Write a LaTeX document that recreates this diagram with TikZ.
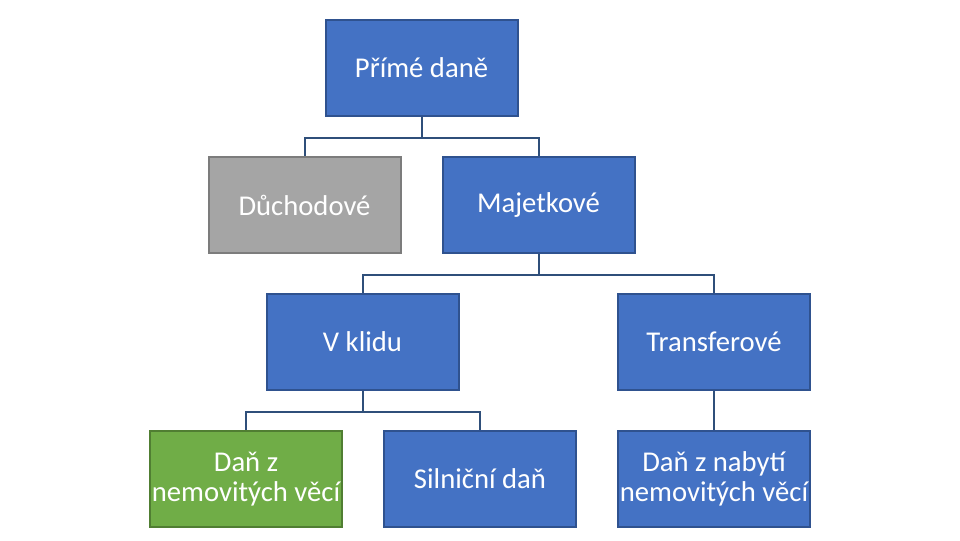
\documentclass[tikz,border=0pt]{standalone}
\usepackage{fontspec}
\setmainfont{Carlito}
\definecolor{bluefill}{HTML}{4472C4}
\definecolor{blueline}{HTML}{2F528F}
\definecolor{grayfill}{HTML}{A5A5A5}
\definecolor{grayline}{HTML}{7C7C7C}
\definecolor{greenfill}{HTML}{70AD47}
\definecolor{greenline}{HTML}{507E32}
\definecolor{conn}{HTML}{2F4F7A}
\begin{document}
\begin{tikzpicture}[x=0.75pt,y=-0.75pt,
  box/.style={draw=blueline,fill=bluefill,line width=1.5pt,minimum width=144pt,minimum height=71.5pt,inner xsep=0pt,inner ysep=1pt,
    text=white,align=center,font=\fontsize{21.5}{22.5}\selectfont},
  graybox/.style={box,draw=grayline,fill=grayfill},
  greenbox/.style={box,draw=greenline,fill=greenfill},
  link/.style={draw=conn,line width=1.5pt}]
\useasboundingbox (0,0) rectangle (960,540);
\node[box] (root) at (421.5,68) {Přímé daně};
\node[graybox] (duch) at (304.5,205) {Důchodové};
\node[box] (maj) at (538.5,205) {Majetkové};
\node[box] (klid) at (362.5,342) {V klidu};
\node[box] (trans) at (714,342) {Transferové};
\node[greenbox] (nem) at (246,479) {Daň z\\nemovitých věcí};
\node[box] (siln) at (480,479) {Silniční daň};
\node[box] (nab) at (714,479) {Daň z nabytí\\nemovitých věcí};
\draw[link] (root.south) -- ++(0,21) -| (duch.north);
\draw[link] (root.south) -- ++(0,21) -| (maj.north);
\draw[link] (maj.south) -- ++(0,21) -| (klid.north);
\draw[link] (maj.south) -- ++(0,21) -| (trans.north);
\draw[link] (klid.south) -- ++(0,21) -| (nem.north);
\draw[link] (klid.south) -- ++(0,21) -| (siln.north);
\draw[link] (trans.south) -- (nab.north);
\end{tikzpicture}
\end{document}
